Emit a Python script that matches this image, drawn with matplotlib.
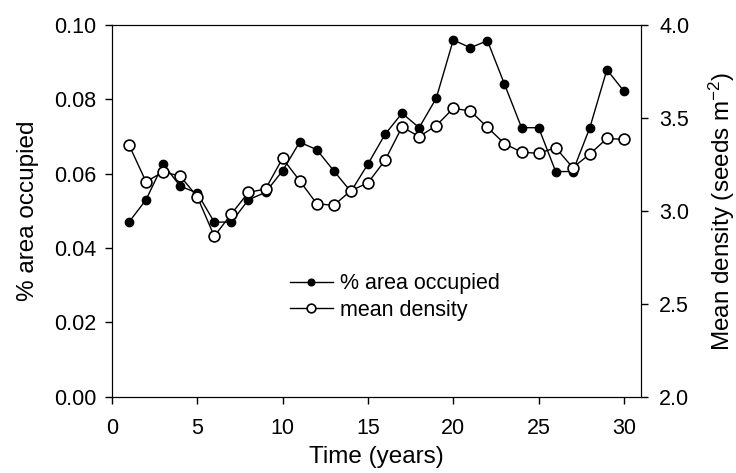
import numpy as np
import matplotlib.pyplot as plt

plt.rcParams['font.family'] = ['Liberation Sans', 'DejaVu Sans']
plt.rcParams['mathtext.fontset'] = 'custom'
plt.rcParams['mathtext.rm'] = 'Liberation Sans'
plt.rcParams['mathtext.it'] = 'Liberation Sans:italic'

# data
years = list(range(1, 31))
area_occupied = [0.047, 0.053, 0.0626, 0.0567, 0.0548, 0.047, 0.047, 0.053, 0.055, 0.0608,
                 0.0685, 0.0665, 0.0608, 0.0552, 0.0626, 0.0706, 0.0763, 0.0724, 0.0803, 0.096,
                 0.0939, 0.0958, 0.0841, 0.0724, 0.0724, 0.0606, 0.0606, 0.0724, 0.088, 0.0822]
mean_density = [3.356, 3.157, 3.21, 3.188, 3.077, 2.864, 2.984, 3.10, 3.118, 3.283,
                3.163, 3.039, 3.03, 3.109, 3.151, 3.272, 3.452, 3.40, 3.459, 3.552,
                3.538, 3.45, 3.362, 3.316, 3.31, 3.34, 3.233, 3.306, 3.39, 3.385]

fig = plt.figure(figsize=(7.36, 4.73), dpi=100)
ax = fig.add_axes([0.152, 0.161, 0.719, 0.786])
ax2 = ax.twinx()

l1, = ax.plot(years, area_occupied, color='black', lw=1, marker='o', ms=6,
              mfc='black', mec='black', label='% area occupied')
l2, = ax2.plot(years, mean_density, color='black', lw=1, marker='o', ms=7.8,
               mfc='white', mec='black', mew=1.2, label='mean density')

ax.set_xlim(0, 31)
ax.set_ylim(0, 0.10)
ax2.set_ylim(2.0, 4.0)
ax.set_xticks([0, 5, 10, 15, 20, 25, 30])
ax.set_yticks([0.0, 0.02, 0.04, 0.06, 0.08, 0.10])
ax.set_yticklabels(['0.00', '0.02', '0.04', '0.06', '0.08', '0.10'])
ax2.set_yticks([2.0, 2.5, 3.0, 3.5, 4.0])
ax2.set_yticklabels(['2.0', '2.5', '3.0', '3.5', '4.0'])

for a in (ax, ax2):
    a.tick_params(direction='out', length=5, width=1, labelsize=15.5, pad=6)
ax2.tick_params(pad=8)
ax.tick_params(axis='x', top=False, pad=10)

ax.set_xlabel('Time (years)', fontsize=17.5, labelpad=5)
ax.set_ylabel('% area occupied', fontsize=17.5, labelpad=11)
ax2.set_ylabel('Mean density (seeds m$^{-2}$)', fontsize=17.5, labelpad=13)

ax.legend(handles=[l1, l2], loc='upper left', bbox_to_anchor=(0.32, 0.355),
          frameon=False, fontsize=15.5, handlelength=2.0, handletextpad=0.35,
          labelspacing=0.25, borderaxespad=0, markerscale=0.8)

fig.savefig('out.png', dpi=100)
